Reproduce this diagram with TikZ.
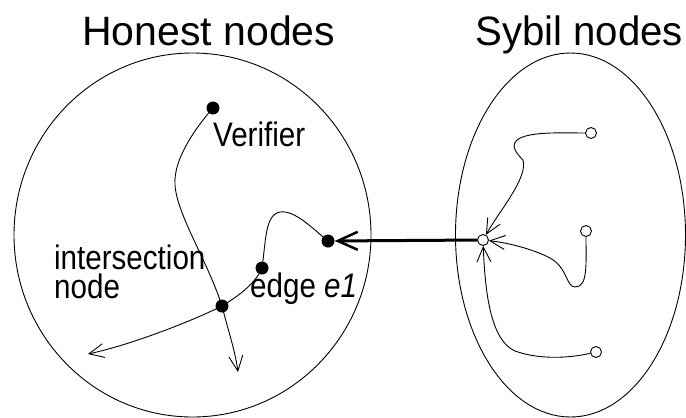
\documentclass[tikz,border=0pt]{standalone}
\usepackage{fontspec}
\setmainfont{Liberation Sans}
\usetikzlibrary{arrows.meta}
\begin{document}
\begin{tikzpicture}[x=1pt,y=-1pt,
  thinline/.style={line width=0.9pt},
  dot/.style={circle,fill=black,inner sep=0pt,minimum size=13pt},
  hollow/.style={circle,draw=black,line width=0.9pt,fill=white,inner sep=0pt,minimum size=11pt},
  openarrow/.style={-{Straight Barb[length=15pt,width=14pt,line width=0.9pt]}},
  thickarrow/.style={line width=3pt,-{Straight Barb[length=20pt,width=18pt,line width=2.5pt]}},
  title/.style={font=\fontsize{41}{41}\selectfont,anchor=base west,inner sep=0pt},
  label/.style={font=\fontsize{34}{29}\selectfont,anchor=base west,inner sep=0pt,xscale=0.87,align=left}
]
\useasboundingbox (0,0) rectangle (686,418);
% regions
\draw[thinline] (192.5,235) ellipse [x radius=178.5, y radius=182];
\draw[thinline] (570.5,235) ellipse [x radius=115, y radius=182];
% titles
\node[title] (ht) at (82,45) {Honest nodes};
\node[title,xscale=0.98] (st) at (475,45) {Sybil nodes};
% honest nodes
\node[dot] (V) at (213,108) {};
\node[dot] (E) at (262,268) {};
\node[dot] (I) at (222,306) {};
\node[dot] (D) at (328,241) {};
\coordinate (T1) at (238,372);
\coordinate (T2) at (88,354);
% sybil nodes
\node[hollow] (H) at (483,240) {};
\node[hollow] (C1) at (591,133) {};
\node[hollow] (C2) at (586,231) {};
\node[hollow] (C3) at (596,352) {};
% labels
\node[label] (vl) at (213,146) {Verifier};
\node[label] (il) at (54,298) {intersection\\node};
\node[label] (el) at (250,297) {edge \textit{e1}};
% verifier path
\draw[thinline,openarrow] (V.center) .. controls (198,125) and (173,158) .. (175,185)
  .. controls (177,215) and (208,262) .. (I.center)
  .. controls (228,330) and (235,350) .. (T1);
% edge path
\draw[thinline,openarrow] (D.center) .. controls (312,228) and (295,210) .. (280,212)
  .. controls (265,215) and (266,240) .. (E.center)
  .. controls (255,285) and (235,298) .. (I.center)
  .. controls (190,322) and (130,345) .. (T2);
% thick attack edge
\draw[thickarrow] (H) -- (D);
% sybil paths
\draw[thinline,openarrow] (C1) .. controls (570,133) and (545,132) .. (530,135)
  .. controls (505,140) and (515,152) .. (523,160)
  .. controls (528,178) and (500,210) .. (H);
\draw[thinline,openarrow] (C2) .. controls (586,265) and (588,287) .. (575,287)
  .. controls (566,287) and (568,268) .. (550,258)
  .. controls (535,250) and (510,243) .. (H);
\draw[thinline,openarrow] (C3) .. controls (570,358) and (540,360) .. (515,351)
  .. controls (490,340) and (485,290) .. (H);
\end{tikzpicture}
\end{document}
